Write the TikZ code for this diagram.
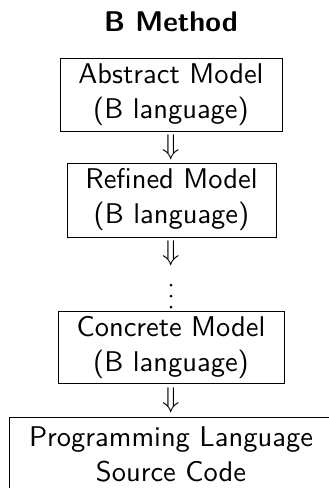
\RequirePackage{fix-cm}
\documentclass[tikz,border=0pt]{standalone}
\usepackage{fontspec}
\setsansfont{lmsans10-regular.otf}[BoldFont=lmsans10-bold.otf]
\usetikzlibrary{calc}
\begin{document}
\begin{tikzpicture}[x=1pt,y=-1pt,
  every node/.style={font=\fontsize{28.5}{35}\selectfont\sffamily},
  modelbox/.style={draw, line width=0.9pt, align=center, inner sep=0pt},
  refine/.style={inner sep=0pt},
  ellipsisdot/.style={fill, radius=1.5pt}
]
\useasboundingbox (0,0) rectangle (329,488);
\clip (0,0) rectangle (329,488);

% heading
\node (title) at (171,22) {\bfseries B Method};

% refinement chain
\node[modelbox, minimum width=222pt, minimum height=73pt] (abs) at (171,94.5)
  {Abstract Model\\(B language)};
\node[modelbox, minimum width=209pt, minimum height=74pt] (ref) at (171.5,200)
  {Refined Model\\(B language)};
\node[modelbox, minimum width=226pt, minimum height=72pt] (con) at (171,347)
  {Concrete Model\\(B language)};
\node[modelbox, minimum width=324pt, minimum height=74pt] (code) at (171,454)
  {Programming Language\\Source Code};

% refinement steps
\node[refine] (r1) at ($(abs.south)!0.5!(ref.north)$) {$\Downarrow$};
\node[refine] (r2) at (171,253) {$\Downarrow$};
\node[refine] (r3) at ($(con.south)!0.5!(code.north)$) {$\Downarrow$};

% further refinements elided
\fill[ellipsisdot] (171,285) circle;
\fill[ellipsisdot] (171,296) circle;
\fill[ellipsisdot] (171,307) circle;
\end{tikzpicture}
\end{document}
